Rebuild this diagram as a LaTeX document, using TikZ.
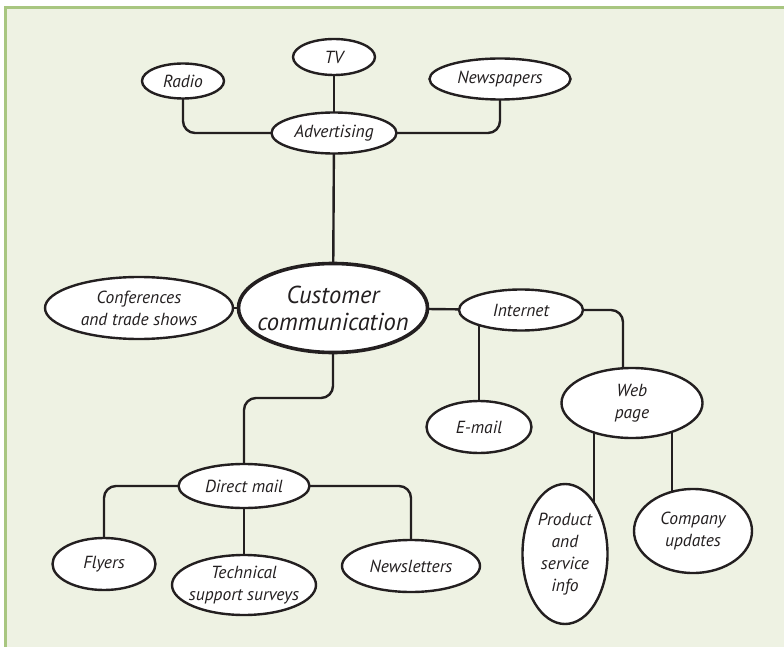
\documentclass[tikz,border=0pt]{standalone}
\usepackage{fontspec}
\setmainfont{PT Sans}
\usetikzlibrary{shapes.geometric,backgrounds}

\definecolor{paper}{RGB}{238,242,227}
\definecolor{frame}{RGB}{168,198,128}
\definecolor{ink}{RGB}{35,31,32}

\tikzset{
  idea/.style={ellipse, draw=ink, line width=2.4pt, fill=white, inner sep=0pt, inner xsep=-8pt,
    align=center, text=ink, font=\itshape\fontsize{17.5}{22}\selectfont},
  hub/.style={idea, line width=3.6pt, inner xsep=-14pt, font=\itshape\fontsize{24.5}{27}\selectfont},
  link/.style={draw=ink, line width=2.4pt, rounded corners=12pt}
}

\begin{document}
\begin{tikzpicture}[x=1pt,y=-1pt]
    \useasboundingbox (0,0) rectangle (784,647);

    % advertising branch
    \node[idea, minimum width=82pt, minimum height=36pt] (tv) at (334,57) {TV};
    \node[idea, minimum width=82pt, minimum height=35pt] (radio) at (183,81) {Radio};
    \node[idea, minimum width=141pt, minimum height=41pt] (news) at (500,79) {Newspapers};
    \node[idea, minimum width=125pt, minimum height=41pt] (advert) at (334,133) {Advertising};

    % centre
    \node[hub, minimum width=189pt, minimum height=89pt] (cust) at (333,308) {Customer\\communication};
    \node[idea, minimum width=188pt, minimum height=62pt] (conf) at (139,308) {Conferences\\and trade shows};

    % internet branch
    \node[idea, minimum width=124pt, minimum height=41pt] (inet) at (521,310) {Internet};
    \node[idea, minimum width=105pt, minimum height=52pt] (email) at (479,427) {E-mail};
    \node[idea, minimum width=141pt, minimum height=70pt] (web) at (632,403) {Web\\page};
    \node[idea, minimum width=85pt, minimum height=140pt] (prod) at (565,554) {Product\\and\\service\\info};
    \node[idea, minimum width=118pt, minimum height=84pt] (comp) at (693,531) {Company\\updates};

    % direct mail branch
    \node[idea, minimum width=131pt, minimum height=44pt] (dmail) at (244,486) {Direct mail};
    \node[idea, minimum width=103pt, minimum height=52pt] (flyers) at (104,564) {Flyers};
    \node[idea, minimum width=144pt, minimum height=60pt] (tech) at (244,585) {Technical\\support surveys};
    \node[idea, minimum width=138pt, minimum height=52pt] (newsl) at (411,566) {Newsletters};

    \coordinate (web tap) at ([xshift=-9pt]web.center);
    \coordinate (prod tap) at ([xshift=29pt]prod.center);
    \coordinate (comp tap) at ([xshift=-21pt]comp.center);
    \coordinate (dm split) at (290,398);

    \begin{pgfonlayer}{background}
      \fill[white] (0,0) rectangle (784,647);
      \fill[paper] (5.5,7.5) rectangle (784,647);
      \draw[frame, line width=3pt] (5.5,647) -- (5.5,7.5) -- (784,7.5);

      \draw[link] (radio.center) |- (advert.center);
      \draw[link] (news.center) |- (advert.center);
      \draw[link] (tv.center) -- (advert.center);
      \draw[link] (advert.center) -- (cust.center);
      \draw[link] (conf.center) -- (cust.center);
      \draw[link] (cust.center) -- (inet.center);
      \draw[link] (inet.center) -| (web tap);
      \draw[link] (inet.center -| email.center) -- (email.center);
      \draw[link] (prod tap) -- (prod tap |- web.center);
      \draw[link] (comp tap) -- (comp tap |- web.center);
      \draw[link] (cust.center) |- (dm split) -| (dmail.center);
      \draw[link] (flyers.center) |- (dmail.center) -| (newsl.center);
      \draw[link] (dmail.center) -- (tech.center);
    \end{pgfonlayer}
\end{tikzpicture}
\end{document}
